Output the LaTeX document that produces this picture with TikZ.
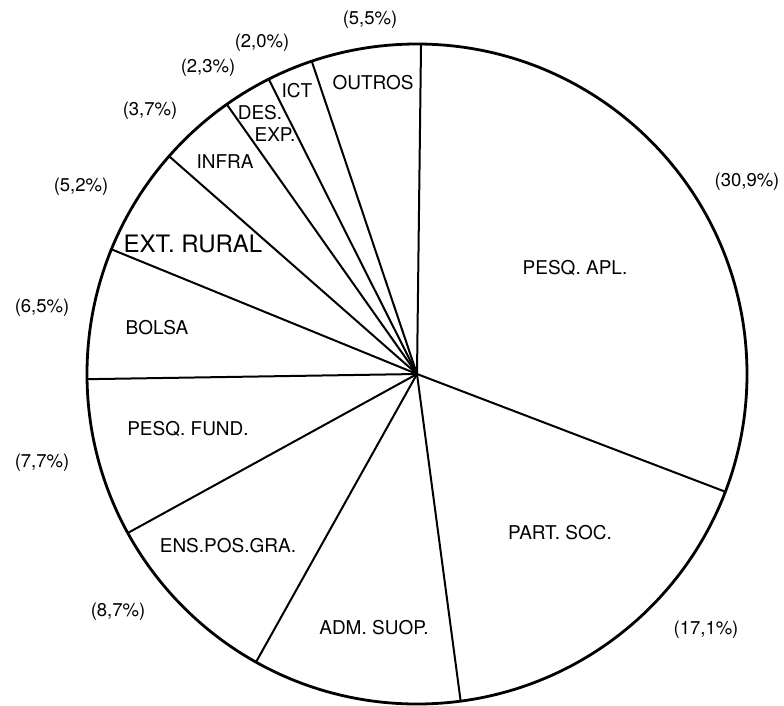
\documentclass[tikz,border=0pt]{standalone}
\usepackage{fontspec}
\setmainfont{TeX Gyre Heros}
\usetikzlibrary{calc}
\begin{document}
\begin{tikzpicture}[x=1pt,y=-1pt,
  rim/.style={line width=2.8pt},
  spoke/.style={line width=2pt},
  lab/.style={font=\fontsize{19}{21}\selectfont, inner sep=0pt},
  pct/.style={font=\fontsize{18.5}{20}\selectfont, inner sep=0pt}]
\path[use as bounding box, fill=white] (0,0) rectangle (784,705);
\coordinate (c) at (417,374);
\draw[rim] (c) circle[radius=330pt];
\foreach \n/\a in {p1/89.3, p2/-20.9, p3/-82.4, p4/-119.2, p5/-151.2, p6/180.9,
                   p7/157.8, p8/138.7, p9/125.2, p10/116.7, p11/108.6}{
  \coordinate (\n) at ($(c)+(\a:330pt)$);
  \draw[spoke] (c) -- (\n);
}
% sector labels
\node[lab] (outros) at (373,83) {OUTROS};
\node[lab] (ict) at (297,91) {ICT};
\node[lab] (des) at (260,113) {DES.};
\node[lab] (exp) at (275,135) {EXP.};
\node[lab] (infra) at (225,162) {INFRA};
\node[lab, font=\fontsize{24}{26}\selectfont] (ext) at (193,244) {EXT. RURAL};
\node[lab] (bolsa) at (157,328) {BOLSA};
\node[lab] (pfund) at (188,429) {PESQ. FUND.};
\node[lab] (ens) at (228,546) {ENS.POS.GRA.};
\node[lab] (adm) at (374,628) {ADM. SUOP.};
\node[lab] (part) at (560,533) {PART. SOC.};
\node[lab] (papl) at (575,268) {PESQ. APL.};
% percentages
\node[pct] (q1) at (370,20) {(5,5\%)};
\node[pct] (q2) at (262,43) {(2,0\%)};
\node[pct] (q3) at (208,68) {(2,3\%)};
\node[pct] (q4) at (150,111) {(3,7\%)};
\node[pct] (q5) at (81,187) {(5,2\%)};
\node[pct] (q6) at (42,308) {(6,5\%)};
\node[pct] (q7) at (42,463) {(7,7\%)};
\node[pct] (q8) at (118,612) {(8,7\%)};
\node[pct] (q9) at (706,630) {(17,1\%)};
\node[pct] (q10) at (747,182) {(30,9\%)};
\end{tikzpicture}
\end{document}
